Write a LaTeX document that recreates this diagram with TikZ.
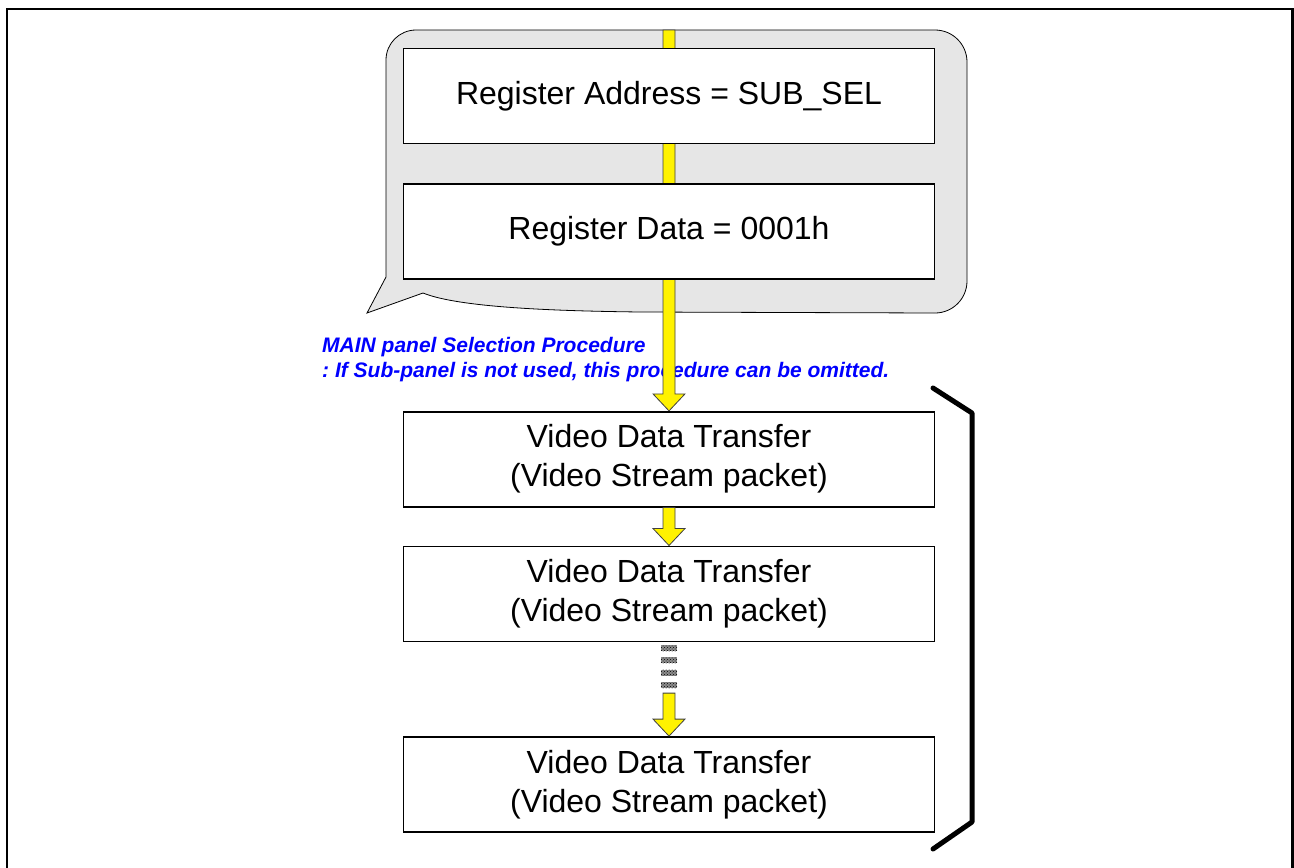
\documentclass[tikz,border=0pt]{standalone}
\usepackage{fontspec}
\setmainfont{Liberation Sans}
\usetikzlibrary{positioning, calc, backgrounds, patterns}

\definecolor{bubblegray}{RGB}{230,230,230}
\definecolor{noteblue}{RGB}{0,0,255}

% yellow block arrow, #1 = start, #2 = tip
\newcommand{\flowarrow}[2]{%
  \draw[flow] ($(#1)+(-6,0)$) -- ($(#2)+(-6,17)$) -- ($(#2)+(-16,17)$) -- (#2)
    -- ($(#2)+(16,17)$) -- ($(#2)+(6,17)$) -- ($(#1)+(6,0)$) -- cycle;}

\begin{document}
\begin{tikzpicture}[x=1pt, y=1pt,
    node distance=39pt,
    stepbox/.style={rectangle, draw, line width=1.6pt, fill=white, align=center,
      minimum width=531pt, minimum height=95pt, inner sep=0pt,
      font=\fontsize{32}{39}\selectfont},
    flow/.style={draw=black!75, line width=0.8pt, fill=yellow, line join=miter},
    dotmark/.style={fill=black!45, preaction={}, postaction={pattern=crosshatch dots, pattern color=black}},
    ]
    \useasboundingbox (0,0) rectangle (1294,-868);

    % Nodes
    \node[stepbox] (addr) at (669,-96) {Register Address = SUB\_SEL};
    \node[stepbox] (data) [below=39pt of addr] {Register Data = 0001h};
    \node[stepbox] (video1) [below=131pt of data] {Video Data Transfer\\(Video Stream packet)};
    \node[stepbox] (video2) [below=38pt of video1] {Video Data Transfer\\(Video Stream packet)};
    \node[stepbox] (video3) [below=94pt of video2] {Video Data Transfer\\(Video Stream packet)};
    \coordinate (bubbletop) at (669,-30);
    \coordinate (dotsend) at ($(video2.south)+(0,-51)$);

    \begin{scope}[on background layer]
      % Callout
      \draw[fill=bubblegray, line width=0.8pt] (367,-313) -- (423,-293)
        .. controls (460,-308) and (560,-311) .. (640,-312) -- (935,-313)
        arc[start angle=-90, end angle=0, radius=32] -- (967,-62)
        arc[start angle=0, end angle=90, radius=32] -- (416,-30)
        arc[start angle=90, end angle=180, radius=30] -- (386,-277) -- cycle;
      \node[anchor=north west, inner sep=0pt, align=left, text=noteblue,
        font=\bfseries\itshape\fontsize{21}{25}\selectfont\frenchspacing] (note) at (322,-337)
        {MAIN panel Selection Procedure\\: If Sub-panel is not used, this procedure can be omitted.};
      % Arrows
      \flowarrow{bubbletop}{video1.north}
    \end{scope}
    \flowarrow{video1.south}{video2.north}
    \foreach \d in {0,12.3,24.6,36.9}
      \fill[dotmark] ($(video2.south)+(-8,-3-\d)$) rectangle ++(16,-6);
    \flowarrow{dotsend}{video3.north}

    % Bracket
    \draw[line width=5pt, line cap=round, line join=round]
      (933,-388) -- (972,-413) -- (972,-822) -- (933,-849);

    % Frame
    \draw[line width=2.2pt] (7,-868) -- (7,-9) -- (1292.5,-9) -- (1292.5,-868);
\end{tikzpicture}
\end{document}
